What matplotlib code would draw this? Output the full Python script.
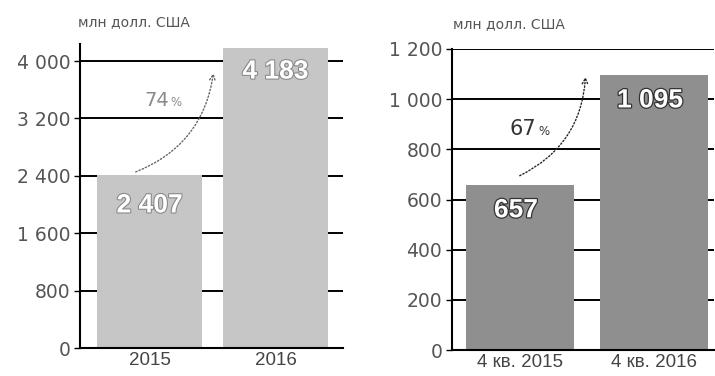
import matplotlib
matplotlib.use("Agg")
import matplotlib.pyplot as plt
import matplotlib.patheffects as pe

unit_label = "млн долл. США"

left_cats = ["2015", "2016"]
left_vals = [2407, 4183]
left_labels = ["2 407", "4 183"]
left_ticks = [0, 800, 1600, 2400, 3200, 4000]
left_ticklabels = ["0", "800", "1 600", "2 400", "3 200", "4 000"]
left_growth = "74"

right_cats = ["4 кв. 2015", "4 кв. 2016"]
right_vals = [657, 1095]
right_labels = ["657", "1 095"]
right_ticks = [0, 200, 400, 600, 800, 1000, 1200]
right_ticklabels = ["0", "200", "400", "600", "800", "1 000", "1 200"]
right_growth = "67"

W, H = 715, 376
fig = plt.figure(figsize=(W / 100, H / 100), dpi=100)


def fx(px):
    return px / W


def fy(py):
    return 1 - py / H


def setup(ax, ticks, ticklabels, cats):
    ax.set_axisbelow(True)
    ax.yaxis.grid(True, color="black", linewidth=1.4)
    ax.xaxis.grid(False)
    for s in ["top", "right"]:
        ax.spines[s].set_visible(False)
    for s in ["left", "bottom"]:
        ax.spines[s].set_linewidth(1.5)
        ax.spines[s].set_color("black")
    ax.set_yticks(ticks)
    ax.set_yticklabels(ticklabels, fontfamily="DejaVu Sans", fontsize=13.5, color="#555555")
    ax.tick_params(axis="y", length=4, width=1, pad=3)
    ax.set_xticks(range(len(cats)))
    ax.set_xticklabels(cats, fontfamily="Liberation Sans", fontsize=13.5, color="#444444")
    ax.tick_params(axis="x", length=0, pad=3)


# ---------- left chart ----------
axL = fig.add_axes([fx(80), fy(348), fx(343 - 80), fy(44) - fy(348)])
axL.bar(range(2), left_vals, width=0.833, color="#c6c6c6", zorder=2)
axL.set_xlim(-0.552, 1.536)
axL.set_ylim(0, 4237)
setup(axL, left_ticks, left_ticklabels, left_cats)
stroke = [pe.withStroke(linewidth=1.6, foreground="#8a8a8a")]
for i, (v, lab) in enumerate(zip(left_vals, left_labels)):
    axL.text(i, v - 420 if i == 0 else v - 330, lab, ha="center", va="center",
             fontsize=19, fontweight="bold", color="white",
             fontfamily="Liberation Sans", path_effects=stroke, zorder=4)
axL.annotate("", xy=(0.51, 3870), xytext=(-0.13, 2440),
             arrowprops=dict(arrowstyle="->", linestyle=(0, (1, 1.5)), color="#666666",
                             lw=1.0, connectionstyle="arc3,rad=0.3"), zorder=5)
axL.text(0.06, 3450, left_growth, ha="center", va="center", fontsize=14,
         color="#8a8a8a", fontfamily="DejaVu Sans")
axL.text(0.21, 3420, "%", ha="center", va="center", fontsize=8.5,
         color="#8a8a8a", fontfamily="DejaVu Sans")
fig.text(fx(78), fy(22), unit_label, ha="left", va="center", fontsize=10,
         color="#555555", fontfamily="DejaVu Sans")

# ---------- right chart ----------
axR = fig.add_axes([fx(452), fy(350), fx(714 - 452), fy(49) - fy(350)])
axR.bar(range(2), right_vals, width=0.806, color="#8f8f8f", zorder=2)
axR.set_xlim(-0.507, 1.448)
axR.set_ylim(0, 1200)
setup(axR, right_ticks, right_ticklabels, right_cats)
for i, (v, lab) in enumerate(zip(right_vals, right_labels)):
    axR.text(i - 0.03, v - 100, lab, ha="center", va="center",
             fontsize=19, fontweight="bold", color="white",
             fontfamily="Liberation Sans",
             path_effects=[pe.withStroke(linewidth=1.8, foreground="#333333")],
             zorder=4)
axR.annotate("", xy=(0.49, 1100), xytext=(-0.02, 690),
             arrowprops=dict(arrowstyle="->", linestyle=(0, (1, 1.5)), color="#222222",
                             lw=1.0, connectionstyle="arc3,rad=0.3"), zorder=5)
axR.text(0.02, 880, right_growth, ha="center", va="center", fontsize=15,
         color="#333333", fontfamily="DejaVu Sans")
axR.text(0.18, 870, "%", ha="center", va="center", fontsize=8.5,
         color="#333333", fontfamily="DejaVu Sans")
fig.text(fx(453), fy(24), unit_label, ha="left", va="center", fontsize=10,
         color="#555555", fontfamily="DejaVu Sans")

fig.savefig("out.png", dpi=100)
